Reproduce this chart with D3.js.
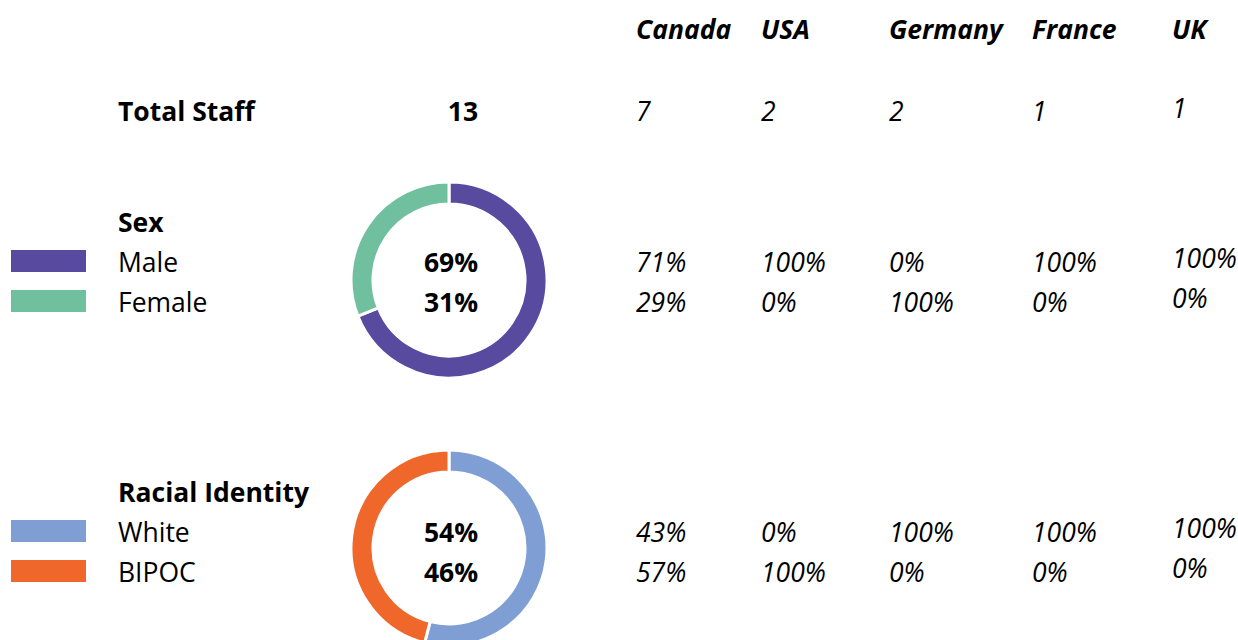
<!DOCTYPE html>
<html><head><meta charset="utf-8">
<script src="https://cdn.jsdelivr.net/npm/d3@7"></script>
<style>body{margin:0;background:#fff}svg{display:block}text{font-family:"Open Sans",sans-serif;fill:#000}</style>
</head><body><svg id="c" width="1238" height="640"></svg>
<script>
const countries = ["Canada","USA","Germany","France","UK"];
const countryStaff = [7,2,2,1,1];
const totalStaff = 13;
const sexCategories = ["Male","Female"];
const sexOverall = [69,31];
const sexByCountry = [[71,100,0,100,100],[29,0,100,0,0]];
const raceCategories = ["White","BIPOC"];
const raceOverall = [54,46];
const raceByCountry = [[43,0,100,100,100],[57,100,0,0,0]];
const sexColors = ["#574a9f","#70bf9f"];
const raceColors = ["#7f9fd4","#ef672a"];

const svg = d3.select("#c");
const colX = d3.scaleOrdinal().domain(countries).range([636,761,889,1032,1172]);
const fs = 26.5;

// headers
svg.selectAll("text.hdr").data(countries).join("text").attr("class","hdr")
  .attr("x",d=>colX(d)).attr("y",39).attr("font-size",fs).attr("font-weight","bold").attr("font-style","italic").text(d=>d);

// total staff row
svg.append("text").attr("x",118).attr("y",121).attr("font-size",fs).attr("font-weight","bold").text("Total Staff");
svg.append("text").attr("x",463).attr("y",121).attr("text-anchor","middle").attr("font-size",fs).attr("font-weight","bold").text(totalStaff);
svg.selectAll("text.ts").data(countryStaff).join("text").attr("class","ts")
  .attr("x",(d,i)=>colX(countries[i])).attr("y",(d,i)=>i===4?118:121).attr("font-size",fs).attr("font-style","italic").text(d=>d);

function section(title, cats, overall, byCountry, colors, cy, titleY){
  const g = svg.append("g");
  g.append("text").attr("x",118).attr("y",titleY).attr("font-size",fs).attr("font-weight","bold").text(title);
  cats.forEach((c,i)=>{
    const by = titleY + 40 + i*40;
    g.append("rect").attr("x",11).attr("y",by-22).attr("width",75).attr("height",22).attr("fill",colors[i]);
    g.append("text").attr("x",118).attr("y",by).attr("font-size",fs).text(c);
    g.append("text").attr("x",451).attr("y",by).attr("text-anchor","middle").attr("font-size",fs).attr("font-weight","bold").text(overall[i]+"%");
    byCountry[i].forEach((v,j)=>{
      g.append("text").attr("x",colX(countries[j])).attr("y",j===4?by-4:by).attr("font-size",fs).attr("font-style","italic").text(v+"%");
    });
  });
  const pie = d3.pie().sort(null).value(d=>d);
  const arc = d3.arc().innerRadius(76).outerRadius(98);
  g.append("g").attr("transform",`translate(449,${cy})`).selectAll("path").data(pie(overall)).join("path")
    .attr("d",arc).attr("fill",(d,i)=>colors[i]).attr("stroke","#fff").attr("stroke-width",3);
}
section("Sex", sexCategories, sexOverall, sexByCountry, sexColors, 280, 232);
section("Racial Identity", raceCategories, raceOverall, raceByCountry, raceColors, 548, 502);
</script></body></html>
